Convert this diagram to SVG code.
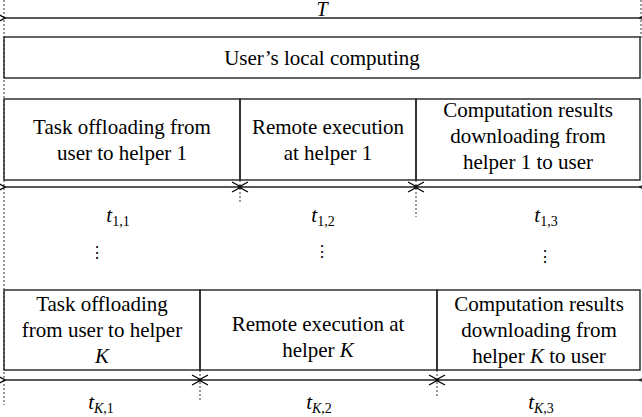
<svg xmlns="http://www.w3.org/2000/svg" width="642" height="417" viewBox="0 0 642 417">
<defs>
<marker id="ah" viewBox="-1 -6 11 12" refX="0" refY="0" markerWidth="11" markerHeight="12" markerUnits="userSpaceOnUse" orient="auto-start-reverse">
<path d="M9,-5 L0,0 L9,5" fill="none" stroke="#000" stroke-width="1.2"/>
</marker>
<style>
.box{fill:none;stroke:#222;stroke-width:1.4}
.dash{stroke:#333;stroke-width:1;stroke-dasharray:2,2;fill:none}
.arr{stroke:#222;stroke-width:1.4;fill:none;marker-start:url(#ah);marker-end:url(#ah)}
</style>
</defs>
<g id="guides">
<line class="dash" x1="4" y1="0" x2="4" y2="405"/>
<line class="dash" x1="641" y1="0" x2="641" y2="38"/>
<line class="dash" x1="240" y1="180" x2="240" y2="203"/>
<line class="dash" x1="416" y1="180" x2="416" y2="217"/>
<line class="dash" x1="200" y1="370" x2="200" y2="401"/>
<line class="dash" x1="437" y1="370" x2="437" y2="396"/>
</g>
<g id="total">
<line class="arr" x1="5" y1="18" x2="640" y2="18"/>
<text font-family="Liberation Serif, serif" font-size="20" font-style="italic" text-anchor="middle" x="322" y="16">T</text>
</g>
<g id="local">
<rect class="box" x="4" y="37" width="636" height="41"/>
<text font-family="Liberation Serif, serif" font-size="21" text-anchor="middle" x="322" y="65">User’s local computing</text>
</g>
<g id="row1-offload">
<rect class="box" x="4" y="99" width="236" height="81"/>
<text font-family="Liberation Serif, serif" font-size="21" text-anchor="middle" x="122" y="134">Task offloading from</text>
<text font-family="Liberation Serif, serif" font-size="21" text-anchor="middle" x="122" y="160">user to helper 1</text>
</g>
<g id="row1-exec">
<rect class="box" x="240" y="99" width="176" height="81"/>
<text font-family="Liberation Serif, serif" font-size="21" text-anchor="middle" x="328" y="134">Remote execution</text>
<text font-family="Liberation Serif, serif" font-size="21" text-anchor="middle" x="328" y="160">at helper 1</text>
</g>
<g id="row1-down">
<rect class="box" x="416" y="99" width="224" height="81"/>
<text font-family="Liberation Serif, serif" font-size="21" text-anchor="middle" x="528" y="117">Computation results</text>
<text font-family="Liberation Serif, serif" font-size="21" text-anchor="middle" x="528" y="143">downloading from</text>
<text font-family="Liberation Serif, serif" font-size="21" text-anchor="middle" x="528" y="169">helper 1 to user</text>
</g>
<g id="rowK-offload">
<rect class="box" x="4" y="290" width="196" height="80"/>
<text font-family="Liberation Serif, serif" font-size="21" text-anchor="middle" x="102" y="311">Task offloading</text>
<text font-family="Liberation Serif, serif" font-size="21" text-anchor="middle" x="102" y="337">from user to helper</text>
<text font-family="Liberation Serif, serif" font-size="21" font-style="italic" text-anchor="middle" x="102" y="363">K</text>
</g>
<g id="rowK-exec">
<rect class="box" x="200" y="290" width="237" height="80"/>
<text font-family="Liberation Serif, serif" font-size="21" text-anchor="middle" x="318" y="331">Remote execution at</text>
<text font-family="Liberation Serif, serif" font-size="21" text-anchor="middle" x="318" y="357">helper <tspan font-style="italic">K</tspan></text>
</g>
<g id="rowK-down">
<rect class="box" x="437" y="290" width="203" height="80"/>
<text font-family="Liberation Serif, serif" font-size="21" text-anchor="middle" x="539" y="311">Computation results</text>
<text font-family="Liberation Serif, serif" font-size="21" text-anchor="middle" x="539" y="337">downloading from</text>
<text font-family="Liberation Serif, serif" font-size="21" text-anchor="middle" x="539" y="363">helper <tspan font-style="italic">K</tspan> to user</text>
</g>
<g id="connectors">
<line class="arr" x1="5" y1="187" x2="239" y2="187"/>
<line class="arr" x1="241" y1="187" x2="415" y2="187"/>
<line class="arr" x1="417" y1="187" x2="640" y2="187"/>
<line class="arr" x1="5" y1="380" x2="199" y2="380"/>
<line class="arr" x1="201" y1="380" x2="436" y2="380"/>
<line class="arr" x1="438" y1="380" x2="640" y2="380"/>
</g>
<g id="labels">
<text font-family="Liberation Serif, serif" font-size="21" text-anchor="middle" x="118" y="222"><tspan font-style="italic">t</tspan><tspan font-size="14" dy="4">1,1</tspan></text>
<text font-family="Liberation Serif, serif" font-size="21" text-anchor="middle" x="323" y="222"><tspan font-style="italic">t</tspan><tspan font-size="14" dy="4">1,2</tspan></text>
<text font-family="Liberation Serif, serif" font-size="21" text-anchor="middle" x="546" y="222"><tspan font-style="italic">t</tspan><tspan font-size="14" dy="4">1,3</tspan></text>
<text font-family="DejaVu Serif, serif" font-size="16" text-anchor="middle" x="97" y="258">⋮</text>
<text font-family="DejaVu Serif, serif" font-size="16" text-anchor="middle" x="322" y="257">⋮</text>
<text font-family="DejaVu Serif, serif" font-size="16" text-anchor="middle" x="545" y="262">⋮</text>
<text font-family="Liberation Serif, serif" font-size="21" text-anchor="middle" x="101" y="409"><tspan font-style="italic">t</tspan><tspan font-size="14" dy="4"><tspan font-style="italic">K</tspan>,1</tspan></text>
<text font-family="Liberation Serif, serif" font-size="21" text-anchor="middle" x="319" y="409"><tspan font-style="italic">t</tspan><tspan font-size="14" dy="4"><tspan font-style="italic">K</tspan>,2</tspan></text>
<text font-family="Liberation Serif, serif" font-size="21" text-anchor="middle" x="541" y="409"><tspan font-style="italic">t</tspan><tspan font-size="14" dy="4"><tspan font-style="italic">K</tspan>,3</tspan></text>
</g>
</svg>
